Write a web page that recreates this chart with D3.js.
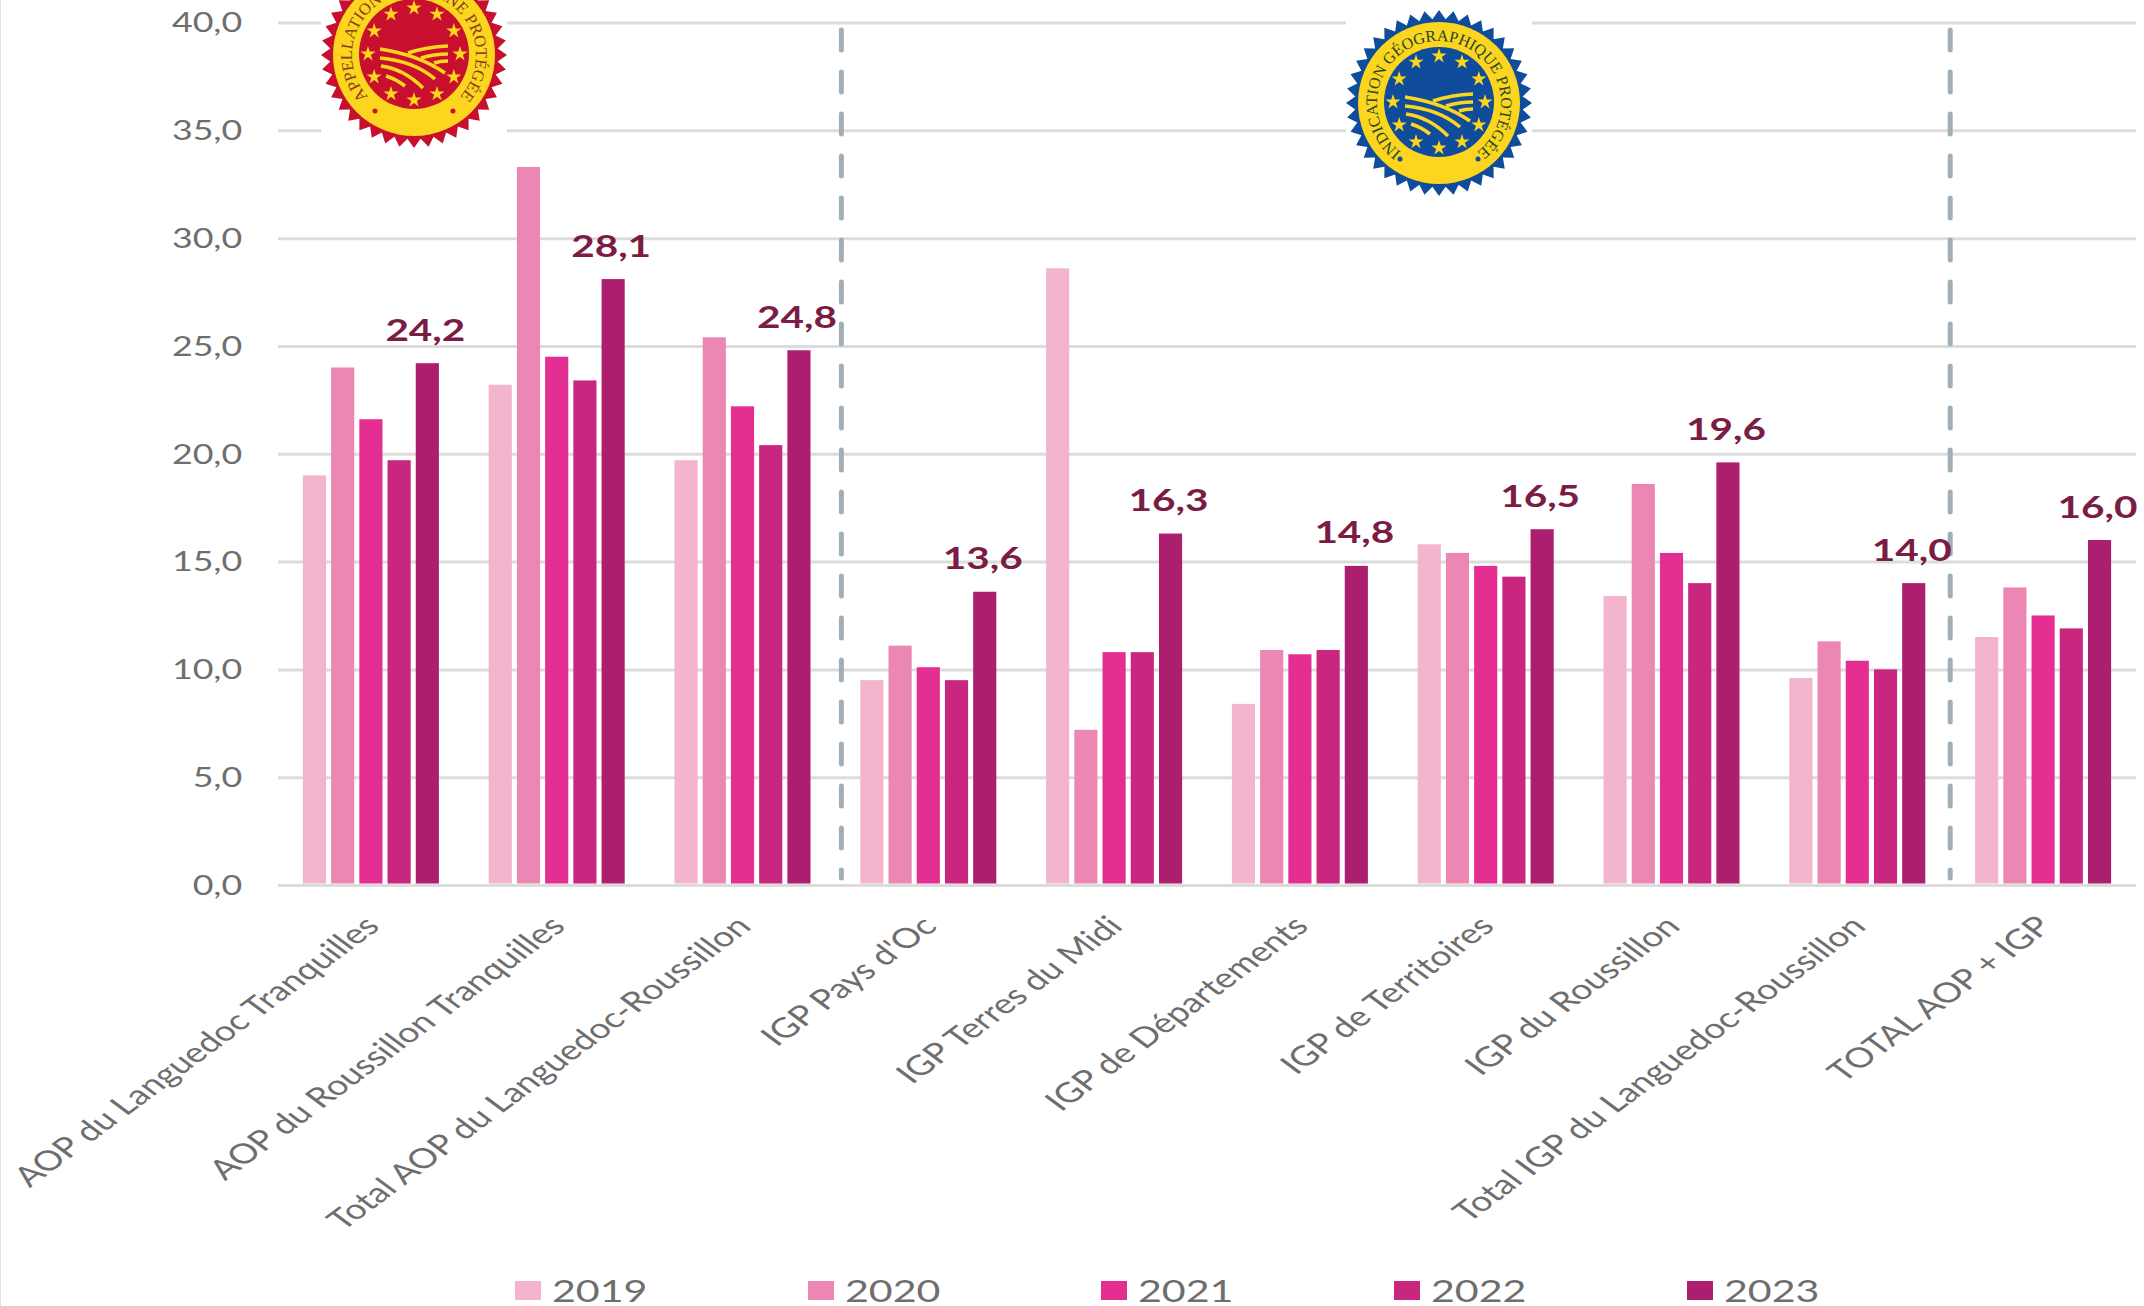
<!DOCTYPE html>
<html>
<head>
<meta charset="utf-8">
<script src="https://cdn.jsdelivr.net/npm/d3@7"></script>
<style>
  html, body { margin: 0; padding: 0; background: #fff; }
  svg { display: block; }
  text { font-family: Lato, "Open Sans", sans-serif; }
</style>
</head>
<body>
<div id="chart"></div>
<script>
/**
 * CONSTANTS AND DATA
 * */
const width = 2144,
  height = 1306,
  margin = { top: 22.5, bottom: 421, left: 278, right: 8 };

// the original is a picture stretched sideways, so all text gets the same stretch
const stretch = 1.35;

const categories = [
  "AOP du Languedoc Tranquilles",
  "AOP du Roussillon Tranquilles",
  "Total AOP du Languedoc-Roussillon",
  "IGP Pays d'Oc",
  "IGP Terres du Midi",
  "IGP de Départements",
  "IGP de Territoires",
  "IGP du Roussillon",
  "Total IGP du Languedoc-Roussillon",
  "TOTAL AOP + IGP",
];
const years = ["2019", "2020", "2021", "2022", "2023"];
const colors = ["#f2b5cd", "#ec86b2", "#e42e92", "#c92680", "#ac1f6e"];

const values2019 = [19.0, 23.2, 19.7, 9.5, 28.6, 8.4, 15.8, 13.4, 9.6, 11.5];
const values2020 = [24.0, 33.3, 25.4, 11.1, 7.2, 10.9, 15.4, 18.6, 11.3, 13.8];
const values2021 = [21.6, 24.5, 22.2, 10.1, 10.8, 10.7, 14.8, 15.4, 10.4, 12.5];
const values2022 = [19.7, 23.4, 20.4, 9.5, 10.8, 10.9, 14.3, 14.0, 10.0, 11.9];
const values2023 = [24.2, 28.1, 24.8, 13.6, 16.3, 14.8, 16.5, 19.6, 14.0, 16.0];
const series = [values2019, values2020, values2021, values2022, values2023];

const yTicks = [0, 5, 10, 15, 20, 25, 30, 35, 40];
// separators sit before these categories
const separatorsBefore = ["IGP Pays d'Oc", "TOTAL AOP + IGP"];

const fmt = d => d.toFixed(1).replace(".", ",");

/**
 * SCALES
 * */
const x = d3.scaleBand()
  .domain(categories)
  .range([margin.left, width - margin.right])
  .paddingInner(0.268)
  .paddingOuter(0.134);

const xYear = d3.scaleBand()
  .domain(years)
  .range([0, x.bandwidth()])
  .paddingInner(0.18)
  .paddingOuter(0);

const y = d3.scaleLinear()
  .domain([0, 40])
  .range([height - margin.bottom, margin.top]);

const svg = d3.select("#chart")
  .append("svg")
  .attr("width", width)
  .attr("height", height);

// thin edge line of the pasted picture
svg.append("line")
  .attr("x1", 0.5).attr("x2", 0.5)
  .attr("y1", 0).attr("y2", height)
  .attr("stroke", "#e2e2e2");

/**
 * AXES
 * */
const yAxis = svg.append("g")
  .attr("transform", `translate(${margin.left},0)`)
  .call(d3.axisLeft(y)
    .tickValues(yTicks)
    .tickFormat(fmt)
    .tickSize(-(width - margin.left - margin.right)));

yAxis.select(".domain").remove();
yAxis.selectAll("line").attr("stroke", "#dcdcdc").attr("stroke-width", 3);
yAxis.selectAll("text")
  .attr("x", -26.5)
  .attr("dy", "0.35em")
  .attr("transform", `scale(${stretch},1)`)
  .attr("fill", "#6e6e6e")
  .style("font-size", "26.5px");

const xAxis = svg.append("g")
  .attr("transform", `translate(0,${y(0)})`)
  .call(d3.axisBottom(x).tickSize(0));

xAxis.select(".domain").remove();
xAxis.selectAll("text")
  .attr("x", 0)
  .attr("y", 0)
  .attr("dy", "0.35em")
  .attr("text-anchor", "end")
  .attr("transform", `translate(1,36) scale(${stretch},1) rotate(-45)`)
  .attr("fill", "#6e6e6e")
  .style("font-size", "27.6px");

/**
 * BADGES
 * */
function badge(cx, cy, dark, ink, label, textSize) {
  const outer = 93, inner = 84, teeth = 40;

  // white box that cuts the gridlines behind the badge
  svg.append("rect")
    .attr("x", cx - outer).attr("y", 0)
    .attr("width", outer * 2).attr("height", cy + outer + 1)
    .attr("fill", "#fff");

  const g = svg.append("g").attr("transform", `translate(${cx},${cy})`);

  const burst = d3.lineRadial().curve(d3.curveLinearClosed);
  g.append("path")
    .attr("d", burst(d3.range(teeth * 2).map(i => [
      i * Math.PI / teeth,
      i % 2 ? inner : outer,
    ])))
    .attr("fill", dark);
  g.append("circle").attr("r", 81).attr("fill", "#fbd51e");
  g.append("circle").attr("r", 55).attr("cy", -1).attr("fill", dark);

  // ring of stars
  const star = d3.symbol().type(d3.symbolStar).size(70)();
  g.selectAll(".star")
    .data(d3.range(12))
    .join("path")
    .attr("class", "star")
    .attr("d", star)
    .attr("fill", "#fbd51e")
    .attr("transform", i => {
      const a = i * Math.PI / 6;
      return `translate(${46 * Math.sin(a)},${-1 - 46 * Math.cos(a)})`;
    });

  // the vineyard stripes
  const stripes = [
    "M-34,-6 Q5,0 31,18",
    "M-34,3 Q0,6 21,24",
    "M-33,11 Q-10,14 9,33",
    "M-28,21 Q-18,24 -9,31",
    "M-6,-2 Q12,-8 34,-9",
    "M7,3 Q20,-1 34,-1",
    "M20,8 Q26,6 34,6",
  ];
  g.selectAll(".stripe")
    .data(stripes)
    .join("path")
    .attr("class", "stripe")
    .attr("d", d => d)
    .attr("fill", "none")
    .attr("stroke", "#fbd51e")
    .attr("stroke-width", 3.6);

  // two small dots closing the text ring
  g.selectAll(".dot")
    .data([-1, 1])
    .join("circle")
    .attr("class", "dot")
    .attr("cx", d => d * 39)
    .attr("cy", 56)
    .attr("r", 2.5)
    .attr("fill", dark);

  // label on an arc running clockwise from bottom left to bottom right
  const id = "arc" + Math.round(cx);
  const r = 62, a = 2.55;
  g.append("path")
    .attr("id", id)
    .attr("fill", "none")
    .attr("d", `M${-r * Math.sin(a)},${-r * Math.cos(a)} A${r},${r} 0 1 1 ${r * Math.sin(a)},${-r * Math.cos(a)}`);
  g.append("text")
    .style("font-family", '"Liberation Serif", serif')
    .style("font-size", textSize + "px")
    .attr("fill", ink)
    .append("textPath")
    .attr("href", "#" + id)
    .attr("startOffset", "50%")
    .attr("text-anchor", "middle")
    .text(label);
}

badge(414, 55, "#c8102e", "#8a3a1a", "APPELLATION D'ORIGINE PROTÉGÉE", 16.5);
badge(1439, 103, "#0f4c9c", "#23452a", "INDICATION GÉOGRAPHIQUE PROTÉGÉE", 16);

/**
 * BARS
 * */
svg.selectAll(".year")
  .data(series)
  .join("g")
  .attr("class", "year")
  .attr("fill", (d, i) => colors[i])
  .attr("transform", (d, i) => `translate(${xYear(years[i])},0)`)
  .selectAll("rect")
  .data(d => d)
  .join("rect")
  .attr("x", (d, i) => x(categories[i]))
  .attr("y", d => y(d))
  .attr("width", xYear.bandwidth())
  .attr("height", d => y(0) - y(d) - 1.5);

/**
 * DASHED SEPARATORS
 * */
const separatorX = (d, i) => x(d) - x.step() * x.paddingInner() / 2 + [6, 0][i];

svg.selectAll(".separator")
  .data(separatorsBefore)
  .join("line")
  .attr("class", "separator")
  .attr("x1", separatorX)
  .attr("x2", separatorX)
  .attr("y1", 30)
  .attr("y2", 878)
  .attr("stroke", "#a2aeb6")
  .attr("stroke-width", 5)
  .attr("stroke-linecap", "round")
  .attr("stroke-dasharray", "20 22");

/**
 * VALUE LABELS (2023 only)
 * */
svg.selectAll(".value")
  .data(values2023)
  .join("text")
  .attr("class", "value")
  .attr("text-anchor", "middle")
  .attr("transform", (d, i) =>
    `translate(${x(categories[i]) + xYear("2023") + xYear.bandwidth() / 2 - 2},${y(d) - 22.5}) scale(${stretch},1)`)
  .attr("fill", "#7b1c44")
  .style("font-size", "30px")
  .style("font-weight", 700)
  .text(fmt);

/**
 * LEGEND
 * */
const legend = svg.selectAll(".legend")
  .data(years)
  .join("g")
  .attr("class", "legend")
  .attr("transform", (d, i) => `translate(${515 + i * 293},1281)`);

legend.append("rect")
  .attr("width", 26)
  .attr("height", 19)
  .attr("fill", (d, i) => colors[i]);

legend.append("text")
  .attr("transform", `translate(37,21) scale(${stretch},1)`)
  .attr("fill", "#6e6e6e")
  .style("font-size", "30.5px")
  .text(d => d);
</script>
</body>
</html>
